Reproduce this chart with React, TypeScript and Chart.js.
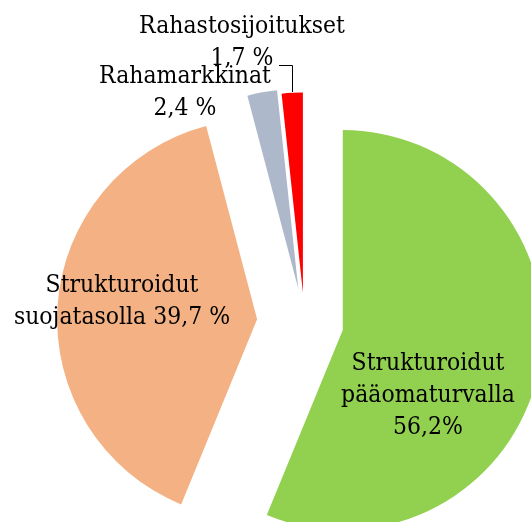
import React, { useEffect, useRef } from "react";
import { Chart, registerables, ArcElement } from "chart.js";

// ---- data ----
const categories = [
  "Strukturoidut pääomaturvalla",
  "Strukturoidut suojatasolla",
  "Rahamarkkinat",
  "Rahastosijoitukset",
];
const values = [56.2, 39.7, 2.4, 1.7];
const percentLabels = ["56,2%", "39,7 %", "2,4 %", "1,7 %"];
const colors = ["#92D050", "#F4B183", "#ADB9CA", "#FF0000"];
const explode = [39, 47.5, 34, 30];

// ---- label layout (text lines built from data, positions are layout) ----
const labelLines: string[][] = [
  ["Strukturoidut", "pääomaturvalla", percentLabels[0]],
  ["Strukturoidut", "suojatasolla " + percentLabels[1]],
  [categories[2], percentLabels[2]],
  [categories[3], percentLabels[3]],
];
const labelPos = [
  { x: 428, y: 370 },
  { x: 122, y: 292 },
  { x: 185, y: 83 },
  { x: 242, y: 33 },
];
const LINE_H = 32;
const FONT = '25px "DejaVu Serif"';
const TEXT_SX = 0.88;

class ExplodedArc extends ArcElement {
  static id = "explodedArc";
  draw(ctx: CanvasRenderingContext2D) {
    const self: any = this;
    const opts: any = self.options;
    const shift = opts.offset || 0;
    const mid = (self.startAngle + self.endAngle) / 2;
    ctx.save();
    ctx.translate(Math.cos(mid) * shift, Math.sin(mid) * shift);
    self.options = { ...opts, offset: 0 };
    super.draw(ctx);
    self.options = opts;
    ctx.restore();
  }
}

Chart.register(...registerables, ExplodedArc);
(Chart.defaults.datasets as any).pie.dataElementType = "explodedArc";

const labelPlugin = {
  id: "sliceLabels",
  afterDatasetsDraw(chart: any) {
    const ctx: CanvasRenderingContext2D = chart.ctx;
    ctx.save();
    // leader line for the smallest slice
    ctx.strokeStyle = "#000";
    ctx.lineWidth = 1;
    ctx.beginPath();
    ctx.moveTo(279, 65.5);
    ctx.lineTo(292.5, 65.5);
    ctx.lineTo(292.5, 92);
    ctx.stroke();

    ctx.font = FONT;
    ctx.fillStyle = "#000";
    ctx.textAlign = "center";
    ctx.textBaseline = "alphabetic";
    labelLines.forEach((lines, i) => {
      lines.forEach((line, j) => {
        ctx.save();
        ctx.translate(labelPos[i].x, labelPos[i].y + j * LINE_H);
        ctx.scale(TEXT_SX, 1);
        ctx.fillText(line, 0, 0);
        ctx.restore();
      });
    });
    ctx.restore();
  },
};

export default function App() {
  const ref = useRef<HTMLCanvasElement | null>(null);
  useEffect(() => {
    if (!ref.current) return;
    const chart = new Chart(ref.current, {
      type: "pie",
      data: {
        labels: categories,
        datasets: [
          {
            data: values,
            backgroundColor: colors,
            borderWidth: 0,
            offset: explode,
            hoverOffset: 0,
            clip: false,
          } as any,
        ],
      },
      options: {
        responsive: false,
        animation: false,
        radius: 200,
        rotation: 0,
        layout: { padding: { left: 78, right: 0, top: 123, bottom: 0 } },
        events: [],
        plugins: {
          legend: { display: false },
          tooltip: { enabled: false },
          title: { display: false },
        },
      } as any,
      plugins: [labelPlugin],
    });
    return () => chart.destroy();
  }, []);
  return (
    <div
      style={{
        position: "fixed",
        left: 0,
        top: 0,
        width: 531,
        height: 522,
        overflow: "hidden",
        background: "#fff",
      }}
    >
      <canvas ref={ref} width={531} height={522} style={{ display: "block" }} />
    </div>
  );
}
